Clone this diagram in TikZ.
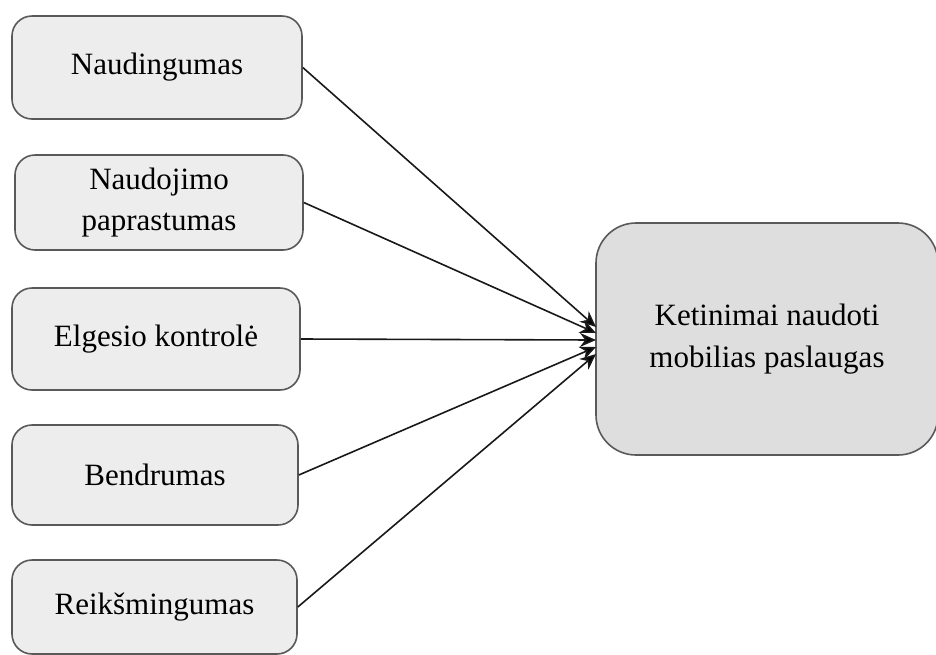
\documentclass[tikz,border=0pt]{standalone}
\usepackage{fontspec}
\setmainfont{Liberation Serif}
\usetikzlibrary{arrows.meta}
\begin{document}
\begin{tikzpicture}[x=0.5pt,y=-0.5pt,
  smallbox/.style={draw=black!65,line width=0.8pt,fill=black!7,rounded corners=10pt,
    inner sep=0pt,align=center,font=\fontsize{15.5}{20.5}\selectfont},
  bigbox/.style={draw=black!65,line width=0.8pt,fill=black!13,rounded corners=20pt,
    inner sep=0pt,align=center,font=\fontsize{15.5}{20.8}\selectfont},
  conn/.style={draw=black!90,line width=0.8pt,-{Stealth[length=8pt,width=7pt,fill=black]}}]
\useasboundingbox (0,0) rectangle (936,654);
\node[smallbox,minimum width=145pt,minimum height=51.5pt] (n1) at (157,67.5) {Naudingumas};
\node[smallbox,minimum width=144pt,minimum height=47.5pt] (n2) at (159,202.5) {Naudojimo\\paprastumas};
\node[smallbox,minimum width=144pt,minimum height=51pt] (n3) at (156,339) {Elgesio kontrolė};
\node[smallbox,minimum width=143pt,minimum height=50pt] (n4) at (155,475) {Bendrumas};
\node[smallbox,minimum width=142.5pt,minimum height=47pt] (n5) at (154.5,607) {Reikšmingumas};
\node[bigbox,minimum width=171pt,minimum height=116pt] (t) at (767,339) {Ketinimai naudoti\\mobilias paslaugas};
\coordinate (e1) at (596,327);
\coordinate (e2) at (596,333);
\coordinate (e3) at (596,340);
\coordinate (e4) at (596,347);
\coordinate (e5) at (596,354);
\draw[conn] (n1.east) -- (e1);
\draw[conn] (n2.east) -- (e2);
\draw[conn] (n3.east) -- (e3);
\draw[conn] (n4.east) -- (e4);
\draw[conn] (n5.east) -- (e5);
\end{tikzpicture}
\end{document}
